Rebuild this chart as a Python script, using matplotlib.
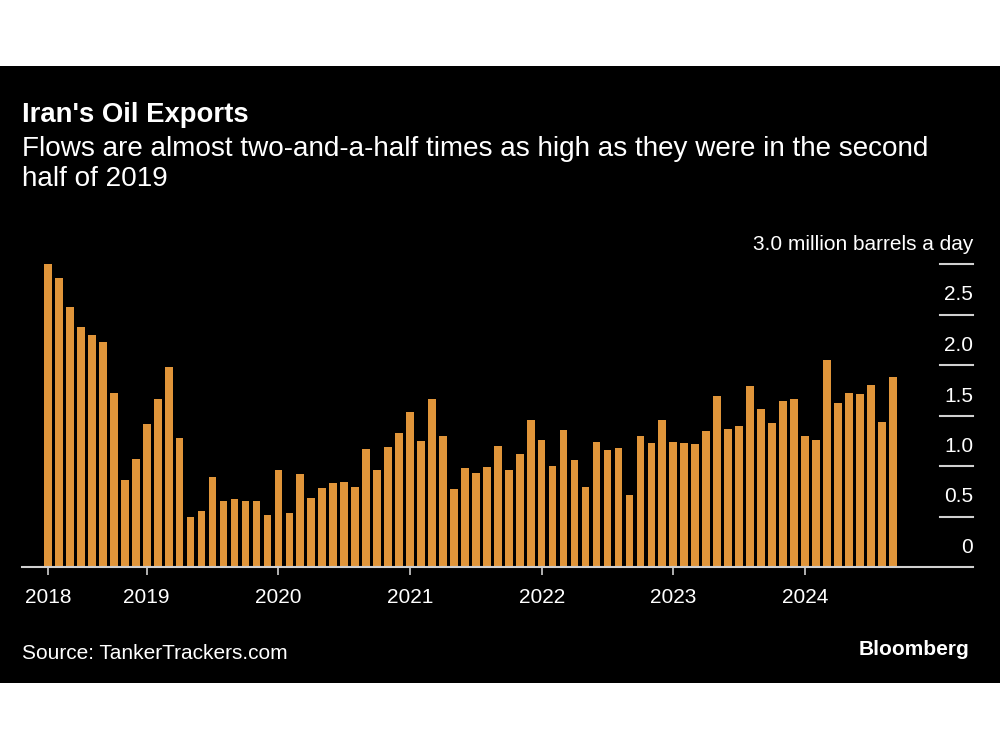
import pandas as pd
import matplotlib
matplotlib.use("Agg")
import matplotlib.pyplot as plt
import matplotlib.transforms as mtransforms
from matplotlib.patches import Rectangle

plt.rcParams['font.family'] = ['Liberation Sans', 'DejaVu Sans']

# monthly exports, million barrels a day (Apr 2018 - Sep 2024)
months = pd.date_range('2018-04-01', periods=78, freq='MS')
exports = [3.00, 2.86, 2.57, 2.38, 2.30, 2.23, 1.72, 0.86, 1.07, 1.42, 1.66, 1.98, 1.28,
           0.50, 0.55, 0.89, 0.65, 0.67, 0.65, 0.65, 0.51,
           0.96, 0.53, 0.92, 0.68, 0.78, 0.83, 0.84, 0.79, 1.17, 0.96, 1.19, 1.33,
           1.53, 1.25, 1.66, 1.30, 0.77, 0.98, 0.93, 0.99, 1.20, 0.96, 1.12, 1.46,
           1.26, 1.00, 1.36, 1.06, 0.79, 1.24, 1.16, 1.18, 0.71, 1.30, 1.23, 1.46,
           1.24, 1.23, 1.22, 1.35, 1.69, 1.37, 1.40, 1.79, 1.56, 1.43, 1.64, 1.66,
           1.30, 1.26, 2.05, 1.62, 1.72, 1.71, 1.80, 1.44, 1.88]
y_ticks = [0, 0.5, 1.0, 1.5, 2.0, 2.5, 3.0]
y_labels = ['0', '0.5', '1.0', '1.5', '2.0', '2.5', '3.0 million barrels a day']

title = "Iran's Oil Exports"
subtitle = "Flows are almost two-and-a-half times as high as they were in the second\nhalf of 2019"
source = "Source: TankerTrackers.com"

bar_color = '#E0953A'
line_color = '#d0d0d0'

fig = plt.figure(figsize=(10, 7.5), dpi=100, facecolor='white')
# black panel
fig.patches.append(Rectangle((0, 0.0893), 1, 0.8227, transform=fig.transFigure,
                             facecolor='black', edgecolor='none', zorder=-1))

ax = fig.add_axes([0.022, 0.244, 0.951, 0.404])
ax.set_facecolor('none')
ax.set_zorder(2)

x = list(range(len(months)))
ax.bar(x, exports, width=0.7, color=bar_color, clip_on=False, zorder=2)

ax.set_xlim(-2.37, 84.32)
ax.set_ylim(0, 3.0)

# year ticks: first bar and every January
tick_pos = [0] + [i for i, m in enumerate(months) if m.month == 1]
tick_lab = [str(months[i].year) for i in tick_pos]
ax.set_xticks(tick_pos)
ax.set_xticklabels(tick_lab, fontsize=15, color='white')
ax.tick_params(axis='x', length=6, width=1.2, color=line_color, pad=9)
ax.set_yticks([])

for s in ['top', 'left', 'right']:
    ax.spines[s].set_visible(False)
ax.spines['bottom'].set_color(line_color)
ax.spines['bottom'].set_linewidth(1.5)
ax.spines['bottom'].set_zorder(3)

# short gridlines and labels on the right
trans = mtransforms.blended_transform_factory(ax.transAxes, ax.transData)
lab_trans = mtransforms.offset_copy(trans, fig=fig, x=0, y=14, units='dots')
for v, lab in zip(y_ticks, y_labels):
    if v > 0:
        ax.plot([0.9653, 1.0], [v, v], transform=trans, color=line_color, lw=1.5,
                clip_on=False)
    ax.text(1.0, v, lab, transform=lab_trans, ha='right', va='baseline',
            fontsize=15, color='white')

fig.text(0.022, 1 - 121.7 / 750, title, fontsize=19.8, fontweight='bold',
         color='white', va='baseline', ha='left')
fig.text(0.022, 1 - 155.7 / 750, subtitle.split('\n')[0], fontsize=20.1,
         color='white', va='baseline', ha='left')
fig.text(0.022, 1 - 186 / 750, subtitle.split('\n')[1], fontsize=20.1,
         color='white', va='baseline', ha='left')
fig.text(0.022, 1 - 658.7 / 750, source, fontsize=15, color='white',
         va='baseline', ha='left')
fig.text(0.969, 1 - 654.7 / 750, 'Bloomberg', fontsize=15, fontweight='bold',
         color='white', va='baseline', ha='right')

fig.savefig('out.png', dpi=100, facecolor='white')
